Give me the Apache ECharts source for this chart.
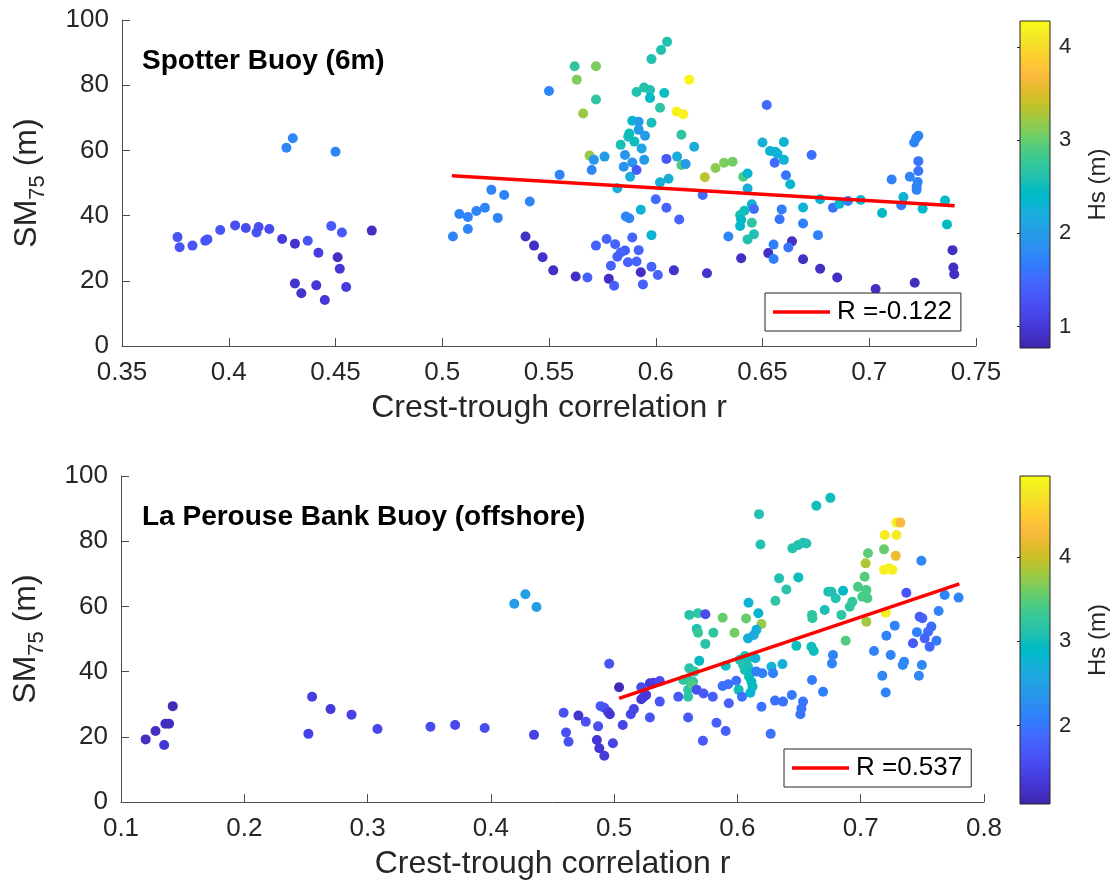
<!DOCTYPE html>
<html>
<head>
<meta charset="utf-8">
<script src="https://cdn.jsdelivr.net/npm/echarts@6/dist/echarts.min.js"></script>
<style>
  html, body { margin: 0; padding: 0; background: #ffffff; }
  #chart { width: 1112px; height: 886px; }
</style>
</head>
<body>
<div id="chart"></div>
<script>
// Crest-trough correlation r vs SM75 (m), coloured by significant wave height Hs (m)

// Spotter Buoy (6m): [r, SM75, Hs]
const spotterPts = [
  [0.376,33.4,1.3],[0.377,30.3,1.3],[0.383,30.8,1.3],[0.389,32.3,1.3],[0.390,32.7,1.3],
  [0.396,35.6,1.3],[0.403,37.0,1.25],[0.408,36.2,1.2],[0.413,34.8,1.3],[0.414,36.5,1.2],
  [0.419,35.9,1.2],[0.425,32.8,1.05],[0.431,31.4,0.95],[0.437,32.3,1.3],[0.442,28.6,1.05],
  [0.448,36.8,1.35],[0.453,34.8,1.35],[0.467,35.4,0.9],[0.451,27.2,0.9],[0.452,23.7,1.0],
  [0.431,19.2,0.95],[0.434,16.2,0.95],[0.441,18.6,1.0],[0.445,14.1,1.0],[0.455,18.1,1.05],
  [0.427,60.8,1.75],[0.430,63.7,1.75],[0.450,59.6,1.75],
  [0.505,33.6,1.75],[0.508,40.5,1.75],[0.512,39.6,1.75],[0.512,35.9,1.75],[0.516,41.4,1.75],
  [0.520,42.4,1.75],[0.523,47.9,1.75],[0.526,39.3,1.75],[0.529,46.3,1.75],[0.541,44.3,1.75],
  [0.550,78.2,1.75],[0.555,52.5,1.75],
  [0.539,33.6,0.9],[0.543,30.8,0.9],[0.547,27.2,0.95],[0.552,23.2,0.9],[0.5625,21.3,0.9],[0.568,21.0,1.4],
  [0.562,85.8,2.7],[0.572,85.8,3.1],[0.563,81.7,3.1],[0.572,75.6,2.7],[0.566,71.3,3.2],[0.569,58.4,3.2],
  [0.571,57.1,1.9],[0.576,58.1,2.0],[0.570,54.0,1.75],
  [0.572,30.8,1.45],[0.577,32.8,1.45],[0.581,31.2,1.45],[0.579,24.6,1.4],[0.578,20.6,0.9],
  [0.5805,18.5,1.4],[0.582,27.4,1.4],[0.5836,28.7,1.4],[0.5856,29.3,1.4],[0.587,25.7,1.4],
  [0.589,33.3,1.45],[0.591,25.9,1.45],[0.592,29.4,1.45],[0.593,22.6,0.9],[0.594,18.9,1.4],
  [0.598,24.3,1.45],[0.601,21.8,1.45],[0.6085,23.2,0.95],[0.624,22.3,0.95],
  [0.598,34.0,2.3],[0.593,41.8,2.3],[0.586,39.7,1.75],[0.5876,39.2,1.75],[0.600,45.0,1.5],
  [0.605,42.4,1.45],[0.611,38.8,1.45],[0.622,46.3,1.5],
  [0.582,48.4,2.2],[0.588,51.9,2.2],[0.585,55.0,1.9],[0.589,56.3,1.9],[0.591,54.0,1.35],
  [0.5856,58.6,1.9],[0.5946,57.1,2.0],[0.5934,60.6,2.1],[0.5836,61.7,2.55],[0.5871,64.2,2.55],
  [0.5876,65.2,2.5],[0.590,62.7,2.5],[0.589,69.1,2.35],[0.592,68.8,2.0],[0.592,66.3,2.0],
  [0.595,64.5,2.0],[0.598,68.5,2.55],[0.591,77.9,2.6],[0.5945,79.3,2.6],[0.5973,78.5,2.6],
  [0.5973,76.1,2.4],[0.604,77.6,2.5],[0.602,73.1,2.7],[0.598,88.0,2.6],[0.6025,90.8,2.6],
  [0.6053,93.3,2.6],[0.6157,81.7,4.25],[0.6098,71.9,4.2],[0.6129,71.1,4.2],[0.612,64.8,2.7],
  [0.618,61.1,2.2],[0.605,57.4,1.35],[0.610,58.1,2.2],[0.612,55.5,2.9],[0.614,55.8,2.0],
  [0.602,50.2,2.25],[0.606,51.3,2.25],[0.623,51.8,3.35],[0.628,54.6,3.15],[0.632,56.2,3.1],
  [0.636,56.5,3.05],[0.641,51.9,2.9],[0.643,52.9,2.35],[0.643,48.3,2.25],[0.645,43.5,2.3],
  [0.646,42.0,1.5],[0.6415,41.5,2.5],[0.6395,40.2,2.55],[0.640,38.7,2.4],[0.6395,36.8,2.4],
  [0.645,37.8,2.7],[0.646,34.3,2.6],[0.643,32.7,2.6],[0.634,33.6,1.75],[0.640,26.9,0.9],
  [0.652,73.9,1.5],[0.650,62.4,2.25],
  [0.660,62.6,2.3],[0.6535,59.8,2.3],[0.656,59.6,2.25],[0.657,59.0,2.3],[0.6557,56.2,1.5],
  [0.660,57.1,2.3],[0.661,52.4,1.6],[0.663,49.6,2.35],[0.673,58.6,1.55],[0.659,41.9,1.7],
  [0.658,38.9,1.6],[0.669,42.5,2.3],[0.669,37.6,1.7],[0.676,34.0,1.7],[0.677,45.0,2.3],
  [0.683,42.4,1.6],[0.686,43.6,2.35],[0.690,44.5,1.7],[0.696,44.8,2.35],[0.706,40.8,2.4],
  [0.7105,51.1,1.7],[0.716,45.7,2.3],[0.715,43.2,1.7],[0.719,51.9,1.75],[0.725,42.1,2.4],
  [0.721,62.4,1.75],[0.722,63.8,1.75],[0.723,64.5,1.75],[0.723,56.7,1.6],[0.723,53.7,1.6],
  [0.7227,50.3,1.75],[0.7222,48.9,1.75],[0.7222,47.9,1.75],[0.7355,44.6,2.4],[0.7364,37.3,2.45],
  [0.739,29.4,0.9],[0.7394,24.1,0.9],[0.7398,22.0,0.9],[0.6638,32.1,0.9],[0.6621,30.2,1.6],
  [0.6552,31.1,1.7],[0.6527,28.5,0.9],[0.6552,26.7,1.7],[0.669,26.6,0.9],[0.677,23.7,0.9],
  [0.685,21.0,0.9],[0.703,17.5,0.9],[0.7213,19.4,0.9]
];

// La Perouse Bank Buoy (offshore): [r, SM75, Hs]
const laPerousePts = [
  [0.120,19.2,1.2],[0.128,21.8,1.2],[0.135,17.5,1.3],[0.136,24.0,1.2],[0.139,24.0,1.2],[0.142,29.4,1.15],
  [0.252,20.9,1.45],[0.255,32.3,1.4],[0.270,28.5,1.35],[0.287,26.8,1.45],[0.308,22.4,1.5],
  [0.351,23.1,1.55],[0.371,23.6,1.5],[0.395,22.7,1.55],
  [0.419,60.8,2.45],[0.428,63.7,2.45],[0.437,59.8,2.45],
  [0.435,20.6,1.45],[0.459,27.4,1.6],[0.461,21.3,1.6],[0.463,18.5,1.6],[0.471,26.5,1.3],
  [0.477,24.6,1.6],[0.487,23.2,1.6],[0.489,29.4,1.7],[0.492,28.9,1.65],[0.495,27.7,1.45],
  [0.4965,26.9,1.3],[0.486,19.0,1.3],[0.488,16.5,1.3],[0.492,14.2,1.35],[0.499,18.0,1.45],
  [0.496,42.4,1.65],[0.504,35.2,1.15],[0.507,23.6,1.45],[0.5135,26.9,1.5],[0.516,28.5,1.45],
  [0.522,35.2,1.55],[0.522,31.5,1.3],[0.524,32.3,1.35],[0.526,32.8,1.35],[0.529,36.4,1.35],
  [0.532,36.6,1.4],[0.537,37.1,1.55],[0.529,25.9,1.65],[0.537,30.8,1.65],[0.552,32.3,1.7],
  [0.560,25.9,1.7],[0.572,18.8,1.7],[0.583,24.3,1.75],[0.5905,21.8,1.75],
  [0.561,57.4,3.15],[0.568,57.9,3.2],[0.574,57.6,1.55],[0.567,53.1,3.05],[0.568,51.9,3.3],
  [0.5805,51.9,3.2],[0.574,48.5,3.15],[0.588,56.5,3.55],[0.5976,51.9,3.6],[0.607,56.3,3.55],
  [0.6195,54.6,3.75],[0.609,61.1,2.75],[0.617,57.9,2.8],[0.6175,88.3,3.1],[0.6187,79.0,3.1],
  [0.569,43.3,2.95],[0.561,41.0,3.15],[0.565,40.0,3.2],[0.556,37.4,3.2],[0.561,37.2,3.25],
  [0.564,36.9,3.2],[0.560,34.4,3.2],[0.560,32.3,3.2],[0.5627,36.2,3.4],
  [0.567,34.4,1.6],[0.5725,33.3,1.7],[0.580,32.3,1.75],[0.588,35.6,1.95],[0.5925,36.1,1.95],
  [0.599,37.2,1.95],[0.593,30.3,1.75],[0.5905,41.8,3.0],[0.601,34.4,3.0],[0.6037,32.3,1.95],
  [0.6019,43.6,3.1],[0.606,44.8,3.1],[0.6078,43.6,3.05],[0.6046,42.0,3.1],[0.6086,41.5,3.05],
  [0.606,40.5,3.05],[0.6114,40.0,3.0],[0.6094,38.4,3.0],[0.6146,44.1,2.7],[0.6154,40.0,2.1],
  [0.6203,39.5,2.1],[0.6276,41.5,2.75],[0.6289,39.5,2.1],[0.6365,42.3,2.7],[0.6114,36.9,2.95],
  [0.6122,35.4,2.95],[0.6105,33.5,2.8],[0.6086,50.2,2.7],[0.6133,51.2,2.6],[0.6154,52.8,2.7],
  [0.6195,29.2,1.95],[0.627,20.9,1.95],[0.6305,31.1,1.95],[0.637,30.8,1.95],[0.6441,32.8,2.05],
  [0.6338,68.6,3.1],[0.6397,65.2,3.15],[0.6308,61.7,3.2],[0.6446,77.8,3.1],[0.6492,78.8,3.1],
  [0.6532,79.5,3.1],[0.6559,79.3,3.1],[0.6494,68.9,3.0],[0.6737,64.5,3.05],[0.6708,58.9,3.05],
  [0.6605,57.4,3.2],[0.6608,56.4,3.2],[0.6478,47.9,3.0],
  [0.6532,30.8,2.0],[0.6519,28.7,2.0],[0.6511,26.9,2.0],[0.6605,37.4,2.05],[0.6695,33.8,2.1],
  [0.660,47.6,3.0],[0.6619,46.3,3.0],
  [0.664,90.9,3.0],[0.6754,93.3,3.0],[0.6762,64.5,3.1],[0.6857,64.8,2.9],[0.6797,62.5,3.1],
  [0.6843,57.4,3.2],[0.6911,59.9,3.2],[0.6932,61.4,3.25],[0.6978,66.0,3.4],[0.7013,63.0,3.4],
  [0.7046,65.0,3.4],[0.7054,62.5,3.4],[0.7032,69.1,3.45],[0.704,73.2,3.85],[0.7059,76.3,3.5],
  [0.7046,55.3,3.8],[0.6878,49.5,3.45],[0.6775,45.1,2.15],[0.6767,42.5,2.15],
  [0.7195,81.9,4.8],[0.729,81.9,4.8],[0.729,85.7,4.85],[0.7322,85.7,4.3],[0.7189,77.5,3.55],
  [0.7284,75.5,4.2],[0.7189,71.2,4.85],[0.723,71.7,4.85],[0.7257,71.2,4.85],[0.7203,58.1,4.85],
  [0.7492,74.0,2.2],[0.737,64.2,1.65],[0.7681,63.5,2.15],[0.7794,62.7,2.15],[0.7632,58.6,2.15],
  [0.7478,56.8,1.75],[0.750,56.4,1.8],[0.7276,54.1,2.15],[0.7208,51.0,2.15],[0.7456,52.1,2.15],
  [0.7424,48.7,1.7],[0.7573,53.8,1.9],[0.7546,52.2,1.9],[0.7519,50.2,1.8],[0.7559,47.6,1.85],
  [0.7614,49.5,2.05],[0.7108,46.3,2.15],[0.7243,45.1,2.15],[0.7352,43.0,2.2],[0.7341,42.0,2.2],
  [0.7496,42.0,2.2],[0.7175,38.7,2.2],[0.7472,38.7,2.2],[0.7203,33.6,2.15]
];

// Least-squares fit lines (end points) and correlation coefficients
const spotterFit = [[0.5045, 52.2], [0.740, 43.0]];
const laPerouseFit = [[0.504, 31.8], [0.780, 66.9]];
const spotterR = -0.122;
const laPerouseR = 0.537;

// Axis ranges
const spotterX = { min: 0.35, max: 0.75, step: 0.05 };
const laPerouseX = { min: 0.1, max: 0.8, step: 0.1 };
const smY = { min: 0, max: 100, step: 20 };
const spotterHsRange = [0.77, 4.28];
const laPerouseHsRange = [1.07, 4.96];
const spotterHsTicks = [1, 2, 3, 4];
const laPerouseHsTicks = [2, 3, 4];

const spotterTitle = 'Spotter Buoy (6m)';
const laPerouseTitle = 'La Perouse Bank Buoy (offshore)';
const xName = 'Crest-trough correlation r';

// parula colormap
const parula = [
  [0.2422,0.1504,0.6603],[0.2504,0.1650,0.7076],[0.2578,0.1818,0.7511],[0.2647,0.1978,0.7952],
  [0.2706,0.2147,0.8364],[0.2751,0.2342,0.8710],[0.2783,0.2559,0.8991],[0.2803,0.2782,0.9221],
  [0.2813,0.3006,0.9414],[0.2810,0.3228,0.9579],[0.2795,0.3447,0.9717],[0.2760,0.3667,0.9829],
  [0.2699,0.3892,0.9906],[0.2602,0.4123,0.9952],[0.2440,0.4358,0.9988],[0.2206,0.4603,0.9973],
  [0.1963,0.4847,0.9892],[0.1834,0.5074,0.9798],[0.1786,0.5289,0.9682],[0.1764,0.5499,0.9520],
  [0.1687,0.5703,0.9359],[0.1540,0.5902,0.9218],[0.1460,0.6091,0.9079],[0.1380,0.6276,0.8973],
  [0.1248,0.6459,0.8883],[0.1113,0.6635,0.8763],[0.0952,0.6798,0.8598],[0.0689,0.6948,0.8394],
  [0.0297,0.7082,0.8163],[0.0036,0.7203,0.7917],[0.0067,0.7312,0.7660],[0.0433,0.7411,0.7394],
  [0.0964,0.7500,0.7120],[0.1408,0.7584,0.6842],[0.1717,0.7670,0.6554],[0.1938,0.7758,0.6251],
  [0.2161,0.7843,0.5923],[0.2470,0.7918,0.5567],[0.2906,0.7973,0.5188],[0.3406,0.8008,0.4789],
  [0.3909,0.8029,0.4354],[0.4456,0.8024,0.3909],[0.5044,0.7993,0.3480],[0.5616,0.7942,0.3045],
  [0.6174,0.7876,0.2612],[0.6720,0.7793,0.2227],[0.7242,0.7698,0.1910],[0.7738,0.7598,0.1646],
  [0.8203,0.7498,0.1535],[0.8634,0.7406,0.1596],[0.9035,0.7330,0.1774],[0.9393,0.7288,0.2100],
  [0.9728,0.7298,0.2394],[0.9956,0.7434,0.2371],[0.9970,0.7659,0.2199],[0.9952,0.7893,0.2028],
  [0.9892,0.8136,0.1885],[0.9786,0.8386,0.1766],[0.9676,0.8639,0.1643],[0.9610,0.8890,0.1537],
  [0.9597,0.9135,0.1423],[0.9628,0.9373,0.1265],[0.9691,0.9606,0.1064],[0.9769,0.9839,0.0805]
];
const toHex = c => '#' + c.map(v => Math.round(v * 255).toString(16).padStart(2, '0')).join('');
const parulaHex = parula.map(toHex);
const gradientStops = parulaHex.map((c, i) => ({ offset: i / (parulaHex.length - 1), color: c }));

const FONT = "'Liberation Sans', Arial, Helvetica, sans-serif";
const INK = '#262626';
const AXIS = '#4d4d4d';

// panel geometry (px)
const panels = [
  { left: 122, top: 20, width: 854, height: 326, cb: { left: 1020, top: 21, width: 30, height: 327 } },
  { left: 121, top: 476, width: 863, height: 326, cb: { left: 1020, top: 476, width: 30, height: 328 } }
];

function xAxisFor(range, gridIndex) {
  return {
    type: 'value', gridIndex, min: range.min, max: range.max, interval: range.step,
    name: xName, nameLocation: 'middle', nameGap: 46,
    nameTextStyle: { fontFamily: FONT, fontSize: 32, color: INK },
    axisLine: { show: true, onZero: false, lineStyle: { color: AXIS, width: 1 } },
    axisTick: { show: true, inside: true, length: 8, lineStyle: { color: AXIS } },
    axisLabel: { fontFamily: FONT, fontSize: 26, color: INK, margin: 14 },
    splitLine: { show: false }
  };
}
function yAxisFor(gridIndex) {
  // SM with a lowered "75" subscript, then " (m)"
  return {
    type: 'value', gridIndex, min: smY.min, max: smY.max, interval: smY.step,
    name: '{a|SM}{b|75}{a| (m)}', nameLocation: 'middle', nameGap: 73, nameRotate: 90,
    nameTextStyle: {
      color: INK,
      rich: {
        a: { fontFamily: FONT, fontSize: 32, lineHeight: 38, color: INK, verticalAlign: 'top' },
        b: { fontFamily: FONT, fontSize: 22, lineHeight: 38, color: INK, verticalAlign: 'bottom' }
      }
    },
    axisLine: { show: true, onZero: false, lineStyle: { color: AXIS, width: 1 } },
    axisTick: { show: true, inside: true, length: 8, lineStyle: { color: AXIS } },
    axisLabel: { fontFamily: FONT, fontSize: 26, color: INK, margin: 13 },
    splitLine: { show: false }
  };
}
function colorbarX(gridIndex) {
  return { type: 'value', gridIndex, min: 0, max: 1, show: false };
}
function colorbarY(gridIndex, range, ticks) {
  return {
    type: 'value', gridIndex, position: 'right', min: range[0], max: range[1],
    name: 'Hs (m)', nameLocation: 'middle', nameRotate: 90, nameGap: 36,
    nameTextStyle: { fontFamily: FONT, fontSize: 24, color: INK },
    axisLine: { show: false },
    axisTick: { show: true, inside: true, length: 3, customValues: ticks, lineStyle: { color: INK } },
    axisLabel: { fontFamily: FONT, fontSize: 22, color: INK, margin: 9, customValues: ticks },
    splitLine: { show: false }
  };
}
function legendFor(name, left, top) {
  return {
    data: [name], left, top, orient: 'vertical',
    padding: [6, 9, 6, 8], itemGap: 0,
    borderColor: INK, borderWidth: 1, backgroundColor: '#ffffff',
    icon: 'rect', itemWidth: 57, itemHeight: 3.5,
    selectedMode: false,
    textStyle: { fontFamily: FONT, fontSize: 26, color: '#000000', padding: [0, 0, 0, 2] }
  };
}
function fitSeries(name, data, xi, yi) {
  return {
    type: 'line', name, xAxisIndex: xi, yAxisIndex: yi, data,
    symbol: 'none', color: '#ff0000', z: 5,
    lineStyle: { color: '#ff0000', width: 3.5 }, silent: true
  };
}
function scatterSeries(name, data, xi, yi) {
  return {
    type: 'scatter', name, xAxisIndex: xi, yAxisIndex: yi, data,
    symbolSize: 10, z: 3, itemStyle: { opacity: 1 }, silent: true
  };
}

const spotterLabel = 'R =' + spotterR.toFixed(3);
const laPerouseLabel = 'R =' + laPerouseR.toFixed(3);

const cbRect = p => ({
  type: 'rect', silent: true, z: 10,
  shape: { x: p.cb.left, y: p.cb.top, width: p.cb.width, height: p.cb.height },
  style: { fill: new echarts.graphic.LinearGradient(0, 1, 0, 0, gradientStops), stroke: INK, lineWidth: 1 }
});

const option = {
  backgroundColor: '#ffffff',
  animation: false,
  textStyle: { fontFamily: FONT },
  title: [
    { text: spotterTitle, left: 142, top: 47, padding: 0,
      textStyle: { fontFamily: FONT, fontSize: 28, fontWeight: 'bold', color: '#000000' } },
    { text: laPerouseTitle, left: 142, top: 503, padding: 0,
      textStyle: { fontFamily: FONT, fontSize: 28, fontWeight: 'bold', color: '#000000' } }
  ],
  grid: [
    { left: panels[0].left, top: panels[0].top, width: panels[0].width, height: panels[0].height },
    { left: panels[1].left, top: panels[1].top, width: panels[1].width, height: panels[1].height },
    { left: panels[0].cb.left, top: panels[0].cb.top, width: panels[0].cb.width, height: panels[0].cb.height },
    { left: panels[1].cb.left, top: panels[1].cb.top, width: panels[1].cb.width, height: panels[1].cb.height }
  ],
  xAxis: [xAxisFor(spotterX, 0), xAxisFor(laPerouseX, 1), colorbarX(2), colorbarX(3)],
  yAxis: [yAxisFor(0), yAxisFor(1),
          colorbarY(2, spotterHsRange, spotterHsTicks), colorbarY(3, laPerouseHsRange, laPerouseHsTicks)],
  visualMap: [
    { type: 'continuous', show: false, seriesIndex: 0, dimension: 2,
      min: spotterHsRange[0], max: spotterHsRange[1], inRange: { color: parulaHex } },
    { type: 'continuous', show: false, seriesIndex: 2, dimension: 2,
      min: laPerouseHsRange[0], max: laPerouseHsRange[1], inRange: { color: parulaHex } }
  ],
  legend: [legendFor(spotterLabel, 765, 293), legendFor(laPerouseLabel, 784, 749)],
  series: [
    scatterSeries('Spotter', spotterPts, 0, 0),
    fitSeries(spotterLabel, spotterFit, 0, 0),
    scatterSeries('La Perouse', laPerousePts, 1, 1),
    fitSeries(laPerouseLabel, laPerouseFit, 1, 1)
  ],
  graphic: [cbRect(panels[0]), cbRect(panels[1])]
};

const chart = echarts.init(document.getElementById('chart'), null, { renderer: 'canvas' });
chart.setOption(option);
</script>
</body>
</html>
